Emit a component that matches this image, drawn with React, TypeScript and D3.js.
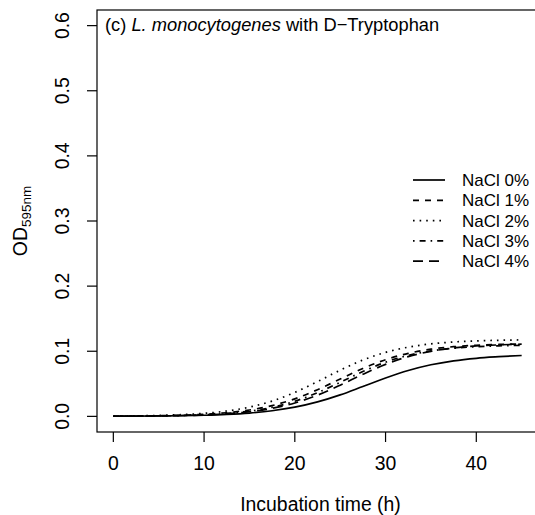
import React from "react";
import * as d3 from "d3";

const times = [0, 5, 10, 12.5, 15, 17.5, 20, 22.5, 25, 27.5, 30, 32.5, 35, 37.5, 40, 42.5, 45];
const nacl0 = [0.0002, 0.0006, 0.0017, 0.003, 0.0051, 0.0086, 0.0141, 0.0222, 0.033, 0.0459, 0.0589, 0.0704, 0.0792, 0.0853, 0.0892, 0.0916, 0.0935];
const nacl1 = [0.0003, 0.001, 0.0031, 0.0056, 0.0098, 0.0166, 0.0269, 0.041, 0.0573, 0.0736, 0.087, 0.0968, 0.1032, 0.107, 0.1092, 0.1104, 0.1111];
const nacl2 = [0.0004, 0.0015, 0.0047, 0.0082, 0.0142, 0.0235, 0.0368, 0.0534, 0.0709, 0.0865, 0.0983, 0.1063, 0.1113, 0.1142, 0.1159, 0.1168, 0.1174];
const nacl3 = [0.0002, 0.0007, 0.0025, 0.0045, 0.008, 0.0139, 0.0232, 0.0363, 0.0523, 0.0688, 0.0832, 0.0936, 0.1005, 0.1046, 0.107, 0.1083, 0.1091];
const nacl4 = [0.0002, 0.0007, 0.0022, 0.004, 0.0071, 0.0123, 0.0206, 0.0326, 0.0479, 0.0646, 0.0798, 0.0918, 0.0999, 0.105, 0.1081, 0.1098, 0.1108];
const seriesLabels = ["NaCl 0%", "NaCl 1%", "NaCl 2%", "NaCl 3%", "NaCl 4%"];
const xTicks = [0, 10, 20, 30, 40];
const yTicks = [0, 0.1, 0.2, 0.3, 0.4, 0.5, 0.6];

const dashes = ["", "6,6", "1.6,5", "1.6,5,6,5", "10,6"];
const W = 535, H = 515;
const L = 97, R = 538, T = 10, B = 432;
const FONT = "'Liberation Sans', Arial, Helvetica, sans-serif";
const AXF = 19.4;

export default function App() {
  const x = d3.scaleLinear().domain([-1.8, 46.8]).range([L, R]);
  const y = d3.scaleLinear().domain([-0.024, 0.624]).range([B, T]);
  const all = [nacl0, nacl1, nacl2, nacl3, nacl4];
  const line = d3
    .line<number>()
    .x((_, i) => x(times[i]))
    .y((d) => y(d))
    .curve(d3.curveMonotoneX);
  return (
    <svg
      width={W}
      height={H}
      style={{ position: "fixed", left: 0, top: 0, background: "#fff" }}
      fontFamily={FONT}
    >
      <rect x={0} y={0} width={W} height={H} fill="#fff" />
      <defs>
        <clipPath id="plotclip">
          <rect x={L} y={T} width={R - L} height={B - T} />
        </clipPath>
      </defs>
      <g clipPath="url(#plotclip)">
        {all.map((s, i) => (
          <path
            key={i}
            d={line(s) || ""}
            fill="none"
            stroke="#000"
            strokeWidth={1.7}
            strokeDasharray={dashes[i]}
          />
        ))}
      </g>
      <rect x={L} y={T} width={R - L} height={B - T} fill="none" stroke="#000" strokeWidth={1.2} />
      {/* x axis */}
      {xTicks.map((t) => (
        <g key={t}>
          <line x1={x(t)} x2={x(t)} y1={B} y2={B + 10} stroke="#000" strokeWidth={1.2} />
          <text x={x(t)} y={470} textAnchor="middle" fontSize={AXF}>
            {t}
          </text>
        </g>
      ))}
      <text x={(L + R) / 2 + 3} y={511} textAnchor="middle" fontSize={AXF}>
        Incubation time (h)
      </text>
      {/* y axis */}
      {yTicks.map((t) => (
        <g key={t}>
          <line x1={L - 10} x2={L} y1={y(t)} y2={y(t)} stroke="#000" strokeWidth={1.2} />
          <text
            transform={`translate(69,${y(t)}) rotate(-90)`}
            textAnchor="middle"
            fontSize={AXF}
          >
            {t.toFixed(1)}
          </text>
        </g>
      ))}
      <text transform={`translate(27,${(T + B) / 2}) rotate(-90)`} textAnchor="middle" fontSize={AXF}>
        OD
        <tspan fontSize={13.5} dy={4}>
          595nm
        </tspan>
      </text>
      {/* title */}
      <text x={105} y={31} fontSize={18.3}>
        (c) <tspan fontStyle="italic">L. monocytogenes</tspan> with D−Tryptophan
      </text>
      {/* legend */}
      {seriesLabels.map((lab, i) => {
        const yy = 180 + i * 20.3;
        return (
          <g key={lab}>
            <line x1={413} x2={445} y1={yy} y2={yy} stroke="#000" strokeWidth={1.7} strokeDasharray={dashes[i]} />
            <text x={462} y={yy + 6} fontSize={17}>
              {lab}
            </text>
          </g>
        );
      })}
    </svg>
  );
}
